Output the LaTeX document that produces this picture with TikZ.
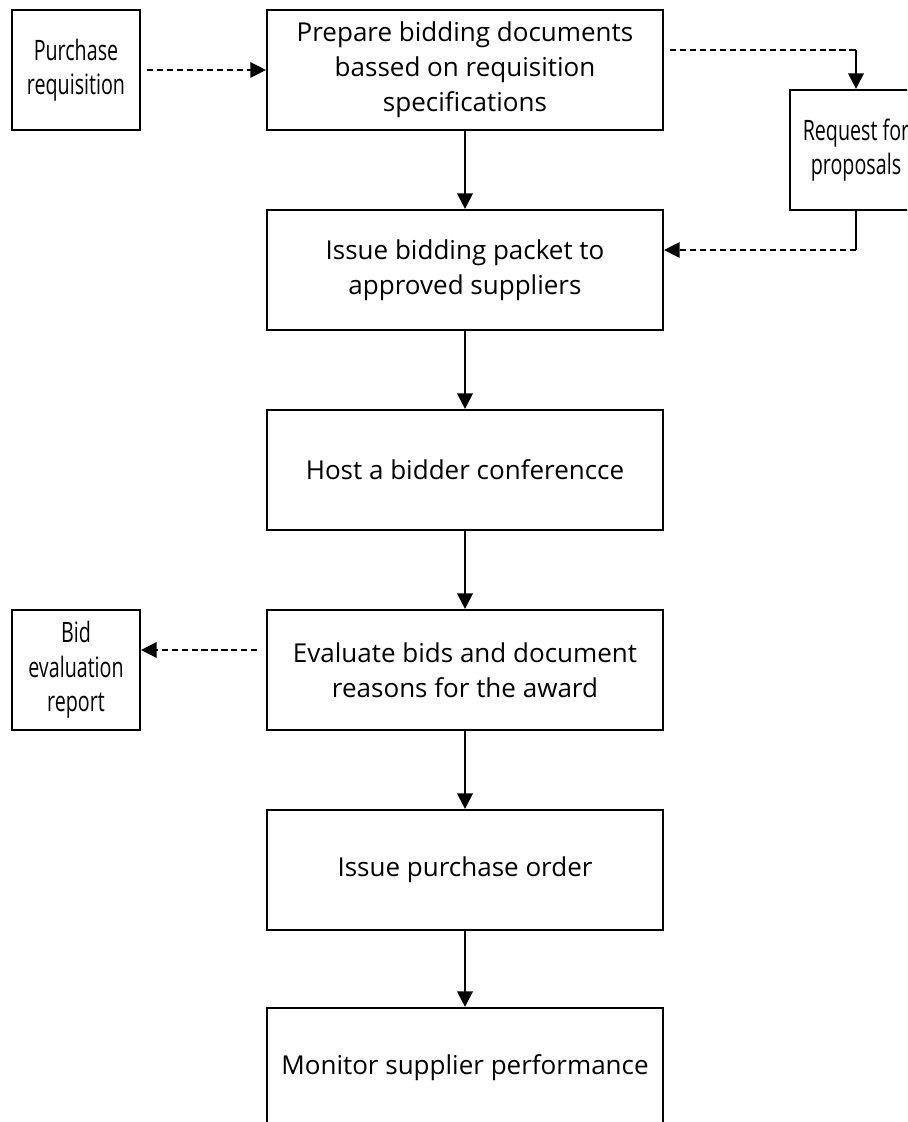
\documentclass[tikz,border=0pt]{standalone}
\usepackage{fontspec}
\setmainfont{Open Sans}
\newfontfamily\narrowsans[FakeStretch=0.7]{Open Sans}
\usetikzlibrary{arrows.meta}

\begin{document}
\begin{tikzpicture}[x=0.025cm, y=-0.025cm, font=\fontsize{18.5}{25}\selectfont,
    >={Triangle[length=11pt,width=11pt]},
    stepbox/.style={draw, line width=1.5pt, minimum width=9.9cm, minimum height=3cm, align=center, inner sep=0pt},
    sidebox/.style={draw, line width=1.5pt, minimum width=3.2cm, minimum height=3cm, align=center, inner sep=0pt,
      font=\narrowsans\fontsize{20}{24.5}\selectfont},
    flow/.style={->, line width=1.5pt},
    solidline/.style={line width=1.5pt},
    dashline/.style={line width=1pt, dash pattern=on 4.3pt off 2.8pt},
    dashflow/.style={dashline, ->}]
    \clip (0,0) rectangle (907,1122);

    % main steps
    \node[stepbox] (prep) at (465,70) {Prepare bidding documents\\bassed on requisition\\specifications};
    \node[stepbox] (issue) at (465,270) {Issue bidding packet to\\approved suppliers};
    \node[stepbox] (host) at (465,470) {Host a bidder conferencce};
    \node[stepbox] (eval) at (465,670) {Evaluate bids and document\\reasons for the award};
    \node[stepbox] (po) at (465,870) {Issue purchase order};
    \node[stepbox] (mon) at (465,1068) {Monitor supplier performance};

    % side documents
    \node[sidebox] (req) at (76,70) {Purchase\\requisition};
    \node[sidebox, minimum width=3.3cm] (rfp) at (856,150) {Request for\\proposals};
    \node[sidebox] (report) at (76,670) {Bid\\evaluation\\report};

    \draw[flow] (prep) -- (issue);
    \draw[flow] (issue) -- (host);
    \draw[flow] (host) -- (eval);
    \draw[flow] (eval) -- (po);
    \draw[flow] (po) -- (mon);

    \draw[dashflow] ([xshift=4pt]req.east) -- (prep.west);

    \coordinate (rfpout) at ([xshift=4pt,yshift=0.5cm]prep.east);
    \draw[dashline] (rfpout) -- (rfpout -| rfp.north);
    \draw[flow] (rfpout -| rfp.north) -- (rfp.north);

    \coordinate (rfpback) at ([yshift=0.5cm]issue.east);
    \draw[solidline] (rfp.south) -- (rfp.south |- rfpback);
    \draw[dashflow] (rfp.south |- rfpback) -- (rfpback);

    \draw[dashflow] ([xshift=-6pt,yshift=0.5cm]eval.west) -- ([yshift=0.5cm]report.east);
\end{tikzpicture}
\end{document}
